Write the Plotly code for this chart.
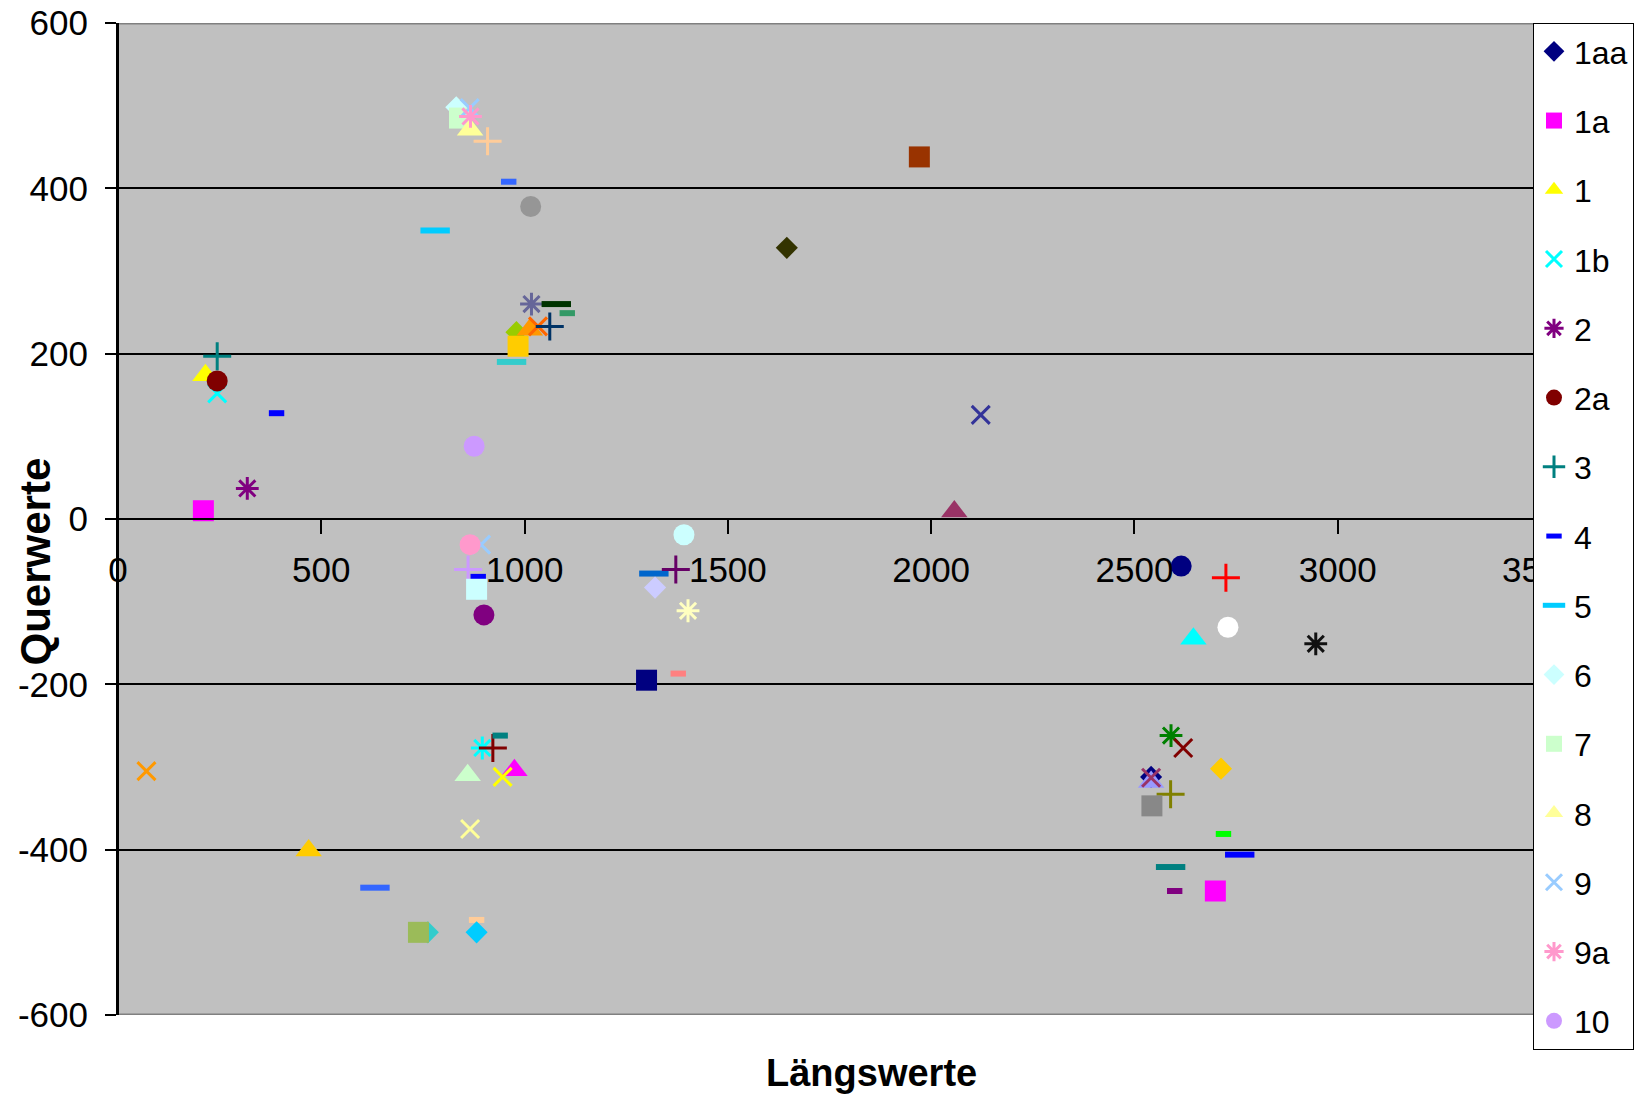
import plotly.graph_objects as go

W, H = 1641, 1099

# ---------------- data ----------------
series_names = ["1aa", "1a", "1", "1b", "2", "2a", "3", "4", "5", "6", "7", "8", "9", "9a", "10"] + \
    [f"Reihe {i}" for i in range(16, 76)]

laengs = [2541, 210, 215, 244, 318, 244, 244, 390, 780, 832, 840, 866, 865, 867, 876,
          909, 961, 968, 980, 984, 1013, 1033, 1017, 1015, 1062, 1105, 1078, 1645, 1971, 2057,
          2122, 2946, 2615, 2725, 2730, 2645, 2590, 2620, 2713, 2541, 2541, 2589, 2543, 2719, 2759,
          2589, 2599, 2699, 1300, 1378, 1392, 1318, 1321, 1372, 1402, 893, 866, 861, 886, 882,
          900, 896, 922, 940, 860, 975, 946, 866, 70, 469, 632, 762, 739, 882, 882]

quer = [-312, 10, 174, 152, 37, 167, 197, 128, 349, 498, 485, 471, 497, 487, 88,
        457, 408, 190, 226, 209, 229, 233, 260, 378, 233, 249, 260, 328, 438, 9,
        126, -151, -57, -71, -131, -145, -262, -277, -302, -318, -313, -333, -347, -381, -406,
        -421, -450, -450, -195, -187, -19, -66, -83, -61, -111, -31, -31, -61, -70, -85,
        -116, -277, -277, -262, -310, -304, -312, -375, -305, -401, -446, -500, -500, -485, -500]

x_ticks = [0, 500, 1000, 1500, 2000, 2500, 3000, 3500]
y_ticks = [-600, -400, -200, 0, 200, 400, 600]
y_tick_labels = ["-600", "-400", "-200", "0", "200", "400", "600"]

# ---------------- styles ----------------
colors = ["#000080", "#FF00FF", "#FFFF00", "#00FFFF", "#800080", "#800000", "#008080", "#0000FF", "#00CCFF", "#CCFFFF",
          "#CCFFCC", "#FFFF99", "#99CCFF", "#FF99CC", "#CC99FF",
          "#FFCC99", "#3366FF", "#33CCCC", "#99CC00", "#FFCC00", "#FF9900", "#FF6600", "#666699", "#969696", "#003366",
          "#339966", "#003300", "#333300", "#993300", "#993366", "#333399", "#111111", "#000080", "#FF0000", "#FFFFFF",
          "#00FFFF", "#008000", "#800000", "#FFCC00", "#9999FF", "#993366", "#808000", "#888888", "#00FF00", "#0000FF",
          "#008080", "#800080", "#FF00FF", "#000080", "#FF8080", "#CCFFFF", "#0066CC", "#CCCCFF", "#660066", "#FFFFC0",
          "#99CCFF", "#FF99CC", "#CC99FF", "#0000FF", "#CCFFFF", "#800080", "#00FFFF", "#800000", "#008080", "#CCFFCC",
          "#FF00FF", "#FFFF00", "#FFFF99", "#FF9900", "#FFCC00", "#3366FF", "#33CCCC", "#9BBB59", "#FFCC99", "#00CCFF"]

kinds = ["diamond", "square", "triangle", "x", "star", "circle", "plus", "sdash", "ldash", "diamond",
         "square", "triangle", "x", "star", "circle",
         "plus", "sdash", "ldash", "diamond", "square", "triangle", "x", "star", "circle", "plus",
         "sdash", "ldash", "diamond", "square", "triangle", "x", "star", "circle", "plus", "circle",
         "triangle", "star", "x", "diamond", "triangle", "x", "plus", "square", "sdash", "ldash",
         "ldash", "sdash", "square", "square", "sdash", "circle", "ldash", "diamond", "plus", "star",
         "x", "circle", "plus", "sdash", "square", "circle", "star", "plus", "sdash", "triangle",
         "triangle", "x", "x", "x", "triangle", "ldash", "diamond", "square", "sdash", "diamond"]

STYLE = {
    "diamond": dict(symbol="diamond", size=17, lw=0),
    "square": dict(symbol="square", size=21, lw=0),
    "triangle": dict(symbol="triangle-up", size=23, lw=0),
    "circle": dict(symbol="circle", size=21, lw=0),
    "x": dict(symbol="x-thin-open", size=18, lw=3),
    "star": dict(symbol="asterisk-open", size=19, lw=3),
    "plus": dict(symbol="cross-thin-open", size=20, lw=3),
    "sdash": dict(symbol="line-ew-open", size=11, lw=6),
    "ldash": dict(symbol="line-ew-open", size=21, lw=6),
}

FONT = "Liberation Sans, Arial, sans-serif"
n_legend = 15

fig = go.Figure()
for i, (name, xv, yv, col, kind) in enumerate(zip(series_names, laengs, quer, colors, kinds)):
    st = STYLE[kind]
    fig.add_trace(go.Scatter(
        x=[xv], y=[yv], mode="markers", name=name,
        legendgroup=name, showlegend=i < n_legend,
        marker=dict(symbol=st["symbol"], size=st["size"], color=col,
                    line=dict(color=col, width=st["lw"])),
        cliponaxis=False,
    ))

x_dom = [118 / W, 1541 / W]
y_dom = [1 - 1015 / H, 1 - 23 / H]
y_range = [-600, 600]
x_pos = y_dom[0] + (0 - y_range[0]) / (y_range[1] - y_range[0]) * (y_dom[1] - y_dom[0])

fig.update_layout(
    template="none",
    width=W, height=H,
    margin=dict(l=0, r=0, t=0, b=0),
    paper_bgcolor="white",
    plot_bgcolor="#C0C0C0",
    font=dict(family=FONT, color="black"),
    xaxis=dict(domain=x_dom, range=[0, 3500], tickvals=x_ticks, ticktext=[str(v) for v in x_ticks],
               anchor="free", position=x_pos, showgrid=False, zeroline=False,
               showline=True, linecolor="black", linewidth=2,
               ticks="outside", ticklen=14, tickwidth=2, tickcolor="black", ticklabelstandoff=6,
               tickfont=dict(size=35, family=FONT, color="black"), automargin=False),
    yaxis=dict(domain=y_dom, range=y_range, tickvals=y_ticks, ticktext=y_tick_labels,
               showgrid=True, gridcolor="black", gridwidth=2,
               zeroline=True, zerolinecolor="black", zerolinewidth=2,
               showline=True, linecolor="black", linewidth=2,
               ticks="outside", ticklen=11, tickwidth=2, tickcolor="black", ticklabelstandoff=10,
               tickfont=dict(size=35, family=FONT, color="black"), automargin=False),
    legend=dict(x=1533 / W, xanchor="left", y=1 - 23 / H, yanchor="top",
                bgcolor="white", bordercolor="black", borderwidth=1,
                font=dict(size=32, family=FONT, color="black"),
                tracegroupgap=24.65),
    showlegend=True,
)

for yv in y_range:
    fig.add_shape(type="line", xref="x domain", yref="y", x0=0, x1=1, y0=yv, y1=yv,
                  line=dict(color="#808080", width=3), layer="above")
fig.add_shape(type="line", xref="x domain", yref="y domain", x0=0, x1=0, y0=0, y1=1,
              line=dict(color="black", width=2), layer="above")

fig.add_annotation(text="<b>Längswerte</b>", xref="paper", yref="paper",
                   x=871 / W, y=1 - 1073 / H, xanchor="center", yanchor="middle", showarrow=False,
                   font=dict(size=38, family=FONT, color="black"))
fig.add_annotation(text="<b>Querwerte</b>", xref="paper", yref="paper",
                   x=34.5 / W, y=1 - 562 / H, xanchor="center", yanchor="middle",
                   showarrow=False, textangle=-90,
                   font=dict(size=42, family=FONT, color="black"))

fig.write_html("out.html")
